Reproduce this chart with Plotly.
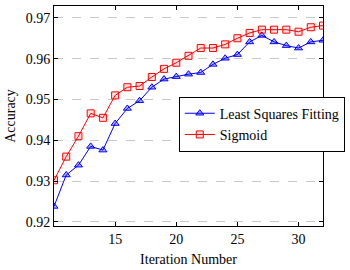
import plotly.graph_objects as go

iterations = list(range(10, 33))
least_squares = [0.9238, 0.9315, 0.9339, 0.9385, 0.9376, 0.9441, 0.9478, 0.9497,
                 0.9530, 0.9550, 0.9556, 0.9562, 0.9566, 0.9586, 0.9601, 0.9610,
                 0.9641, 0.9657, 0.9641, 0.9632, 0.9626, 0.9641, 0.9645]
sigmoid = [0.9302, 0.9360, 0.9410, 0.9466, 0.9455, 0.9510, 0.9530, 0.9533,
           0.9555, 0.9575, 0.9590, 0.9607, 0.9626, 0.9626, 0.9635, 0.9650,
           0.9663, 0.9671, 0.9671, 0.9671, 0.9666, 0.9677, 0.9681]
x_ticks = [15, 20, 25, 30]
y_ticks = [0.92, 0.93, 0.94, 0.95, 0.96, 0.97]

FONT = "Liberation Serif, Times New Roman, serif"

fig = go.Figure()
fig.add_trace(go.Scatter(
    x=iterations, y=least_squares, name="Least Squares Fitting",
    mode="lines+markers",
    line=dict(color="#0000ff", width=1),
    marker=dict(symbol="triangle-up", size=7, color="rgba(0,0,255,0.3)",
                line=dict(color="#0000ff", width=1)),
))
fig.add_trace(go.Scatter(
    x=iterations, y=sigmoid, name="Sigmoid",
    mode="lines+markers",
    line=dict(color="#ff0000", width=1),
    marker=dict(symbol="square", size=7, color="rgba(255,0,0,0.12)",
                line=dict(color="#ff0000", width=1)),
))

fig.update_layout(
    width=350, height=270,
    margin=dict(l=54, r=25, t=5, b=39),
    paper_bgcolor="white", plot_bgcolor="white",
    font=dict(family=FONT, size=14, color="black"),
    showlegend=True,
    legend=dict(x=1.081, y=0.588, xanchor="right", yanchor="top",
                bgcolor="white", bordercolor="black", borderwidth=1,
                font=dict(family=FONT, size=14), tracegroupgap=0, itemwidth=30),
)
fig.update_xaxes(
    range=[10, 32], tickvals=x_ticks, ticks="inside", ticklen=4,
    tickcolor="black", showline=True, linecolor="black", linewidth=1,
    mirror="ticks", showgrid=False, zeroline=False,
    tickfont=dict(family=FONT, size=14),
    title=dict(text="Iteration Number", standoff=8, font=dict(family=FONT, size=14)),
)
fig.update_yaxes(
    range=[0.919, 0.9729], tickvals=y_ticks, tickformat=".2f",
    ticks="inside", ticklen=4, tickcolor="black",
    showline=True, linecolor="black", linewidth=1, mirror="ticks",
    showgrid=True, gridcolor="#c8c8c8", griddash="dash", gridwidth=1,
    zeroline=False,
    tickfont=dict(family=FONT, size=14),
    title=dict(text="Accuracy", standoff=6, font=dict(family=FONT, size=14)),
)

fig.write_html("out.html")
